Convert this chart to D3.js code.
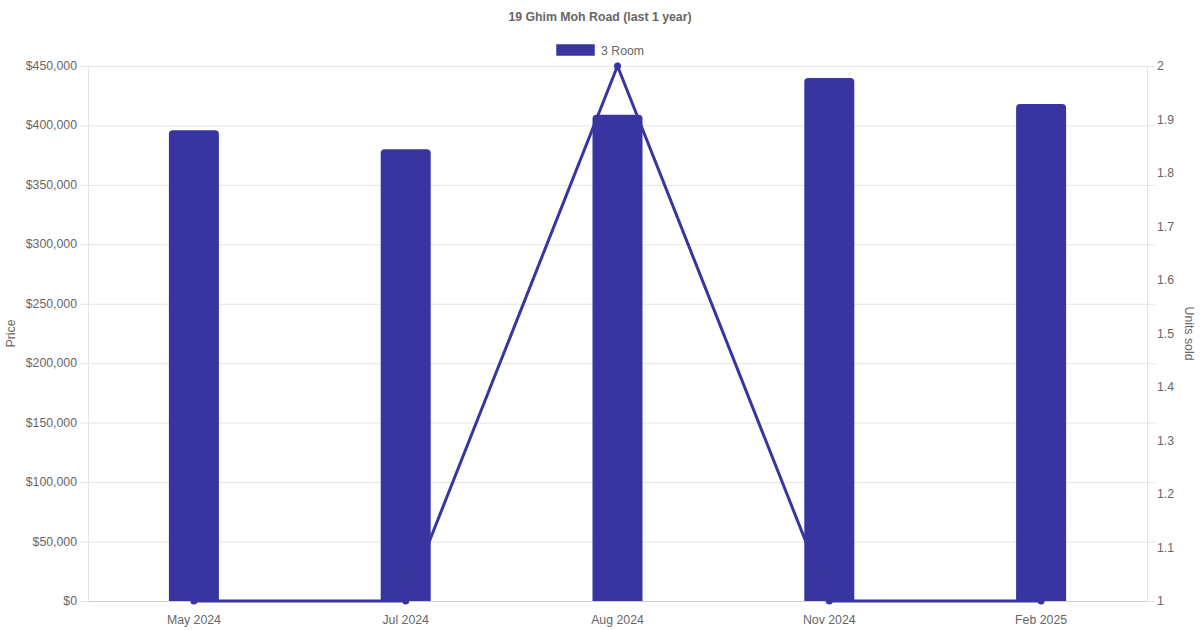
<!DOCTYPE html>
<html><head><meta charset="utf-8">
<script src="https://cdn.jsdelivr.net/npm/d3@7"></script>
<style>body{margin:0;background:#fff}svg{display:block}text{font-family:"Liberation Sans",Arial,Helvetica,sans-serif}</style>
</head><body><svg id="c" width="1200" height="630"></svg>
<script>
const title = "19 Ghim Moh Road (last 1 year)";
const seriesName = "3 Room";
const months = ["May 2024","Jul 2024","Aug 2024","Nov 2024","Feb 2025"];
const prices = [396000, 380000, 409000, 440000, 418000];
const units = [1, 1, 2, 1, 1];
const priceTicks = [0,50000,100000,150000,200000,250000,300000,350000,400000,450000];
const unitTicks = [1,1.1,1.2,1.3,1.4,1.5,1.6,1.7,1.8,1.9,2];

const color = "#3935a0", textC = "#666", gridC = "#e5e5e5";
const svg = d3.select("#c");
const L = 88, R = 1147, T = 66, B = 601;
const x = d3.scaleBand().domain(months).range([L, R]);
const yP = d3.scaleLinear().domain([0, 450000]).range([B, T]);
const yU = d3.scaleLinear().domain([1, 2]).range([B, T]);

// grid
svg.append("g").selectAll("line").data(priceTicks).join("line")
  .attr("x1", L - 8).attr("x2", R + 8).attr("y1", d => yP(d) + 0.5).attr("y2", d => yP(d) + 0.5)
  .attr("stroke", gridC);
svg.append("line").attr("x1", L + 0.5).attr("x2", L + 0.5).attr("y1", T).attr("y2", B).attr("stroke", gridC);
svg.append("line").attr("x1", R + 0.5).attr("x2", R + 0.5).attr("y1", T).attr("y2", B).attr("stroke", gridC);
svg.append("line").attr("x1", L).attr("x2", R).attr("y1", B + 0.5).attr("y2", B + 0.5).attr("stroke", "#ccc");

// left ticks
const fmt = d => "$" + d3.format(",")(d);
svg.append("g").selectAll("text").data(priceTicks).join("text")
  .attr("x", L - 11).attr("y", d => yP(d) + 4).attr("text-anchor", "end")
  .attr("font-size", 12.3).attr("fill", textC).text(fmt);
// right ticks
svg.append("g").selectAll("text").data(unitTicks).join("text")
  .attr("x", R + 10).attr("y", d => yU(d) + 4).attr("text-anchor", "start")
  .attr("font-size", 12.3).attr("fill", textC).text(d => d3.format("~g")(d));
// x ticks
svg.append("g").selectAll("text").data(months).join("text")
  .attr("x", d => x(d) + x.bandwidth() / 2).attr("y", 624).attr("text-anchor", "middle")
  .attr("font-size", 12.3).attr("fill", textC).text(d => d);

// axis titles
svg.append("text").attr("transform", `translate(15,${(T + B) / 2}) rotate(-90)`)
  .attr("text-anchor", "middle").attr("font-size", 12.3).attr("fill", textC).text("Price");
svg.append("text").attr("transform", `translate(1185,${(T + B) / 2}) rotate(90)`)
  .attr("text-anchor", "middle").attr("font-size", 12.3).attr("fill", textC).text("Units sold");

// title
svg.append("text").attr("x", 600).attr("y", 21).attr("text-anchor", "middle")
  .attr("font-size", 12.3).attr("font-weight", "bold").attr("fill", textC).text(title);
// legend
svg.append("rect").attr("x", 556).attr("y", 44).attr("width", 39).attr("height", 12).attr("fill", color)
  .attr("stroke", "#fff").attr("stroke-width", 0.5);
svg.append("text").attr("x", 601).attr("y", 54.5).attr("font-size", 12.3).attr("fill", textC).text(seriesName);

// bars with rounded top corners
const bw = 50, r = 4;
svg.append("g").selectAll("path").data(months).join("path")
  .attr("fill", color)
  .attr("d", (m, i) => {
    const cx = x(m) + x.bandwidth() / 2, x0 = cx - bw / 2, x1 = cx + bw / 2;
    const y0 = yP(prices[i]), yb = B;
    return `M${x0},${yb}V${y0 + r}Q${x0},${y0} ${x0 + r},${y0}H${x1 - r}Q${x1},${y0} ${x1},${y0 + r}V${yb}Z`;
  });

// line
const line = d3.line().x((d, i) => x(months[i]) + x.bandwidth() / 2).y(d => yU(d));
svg.append("path").datum(units).attr("d", line).attr("fill", "none")
  .attr("stroke", color).attr("stroke-width", 3);
svg.append("g").selectAll("circle").data(units).join("circle")
  .attr("cx", (d, i) => x(months[i]) + x.bandwidth() / 2).attr("cy", d => yU(d)).attr("r", 3.5)
  .attr("fill", color);
</script></body></html>
